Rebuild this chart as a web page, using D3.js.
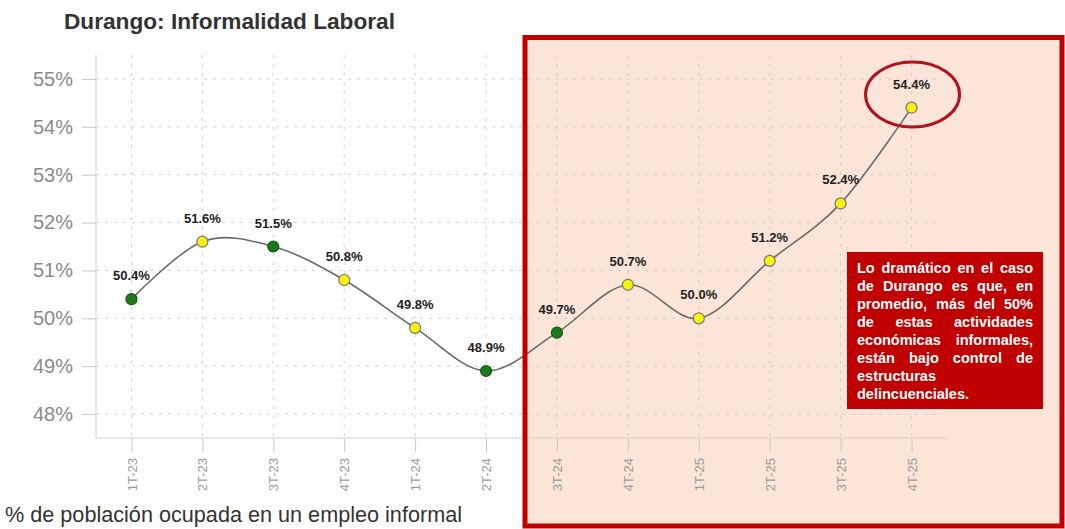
<!DOCTYPE html>
<html><head><meta charset="utf-8">
<script src="https://cdn.jsdelivr.net/npm/d3@7"></script>
<style>body{margin:0;background:#fff;}svg{display:block;font-family:"Liberation Sans",Arial,sans-serif;}</style>
</head><body>
<svg id="c" width="1065" height="529"></svg>
<script>
const categories = ["1T-23","2T-23","3T-23","4T-23","1T-24","2T-24","3T-24","4T-24","1T-25","2T-25","3T-25","4T-25"];
const values = [50.4,51.6,51.5,50.8,49.8,48.9,49.7,50.7,50.0,51.2,52.4,54.4];
const markerKind = ["green","yellow","green","yellow","yellow","green","green","yellow","yellow","yellow","yellow","yellow"];
const yTicks = [48,49,50,51,52,53,54,55];
const title = "Durango: Informalidad Laboral";
const footnote = "% de población ocupada en un empleo informal";
const noteLines = ["Lo dramático en el caso","de Durango es que, en","promedio, más del 50%","de estas actividades","económicas informales,","están bajo control de","estructuras","delincuenciales."];
const noteJustify = [true,true,true,true,true,true,false,false];

const svg = d3.select("#c");
const x = d3.scalePoint().domain(categories).range([96,947]).padding(0.5);
const y = d3.scaleLinear().domain([47.5,55.5]).range([438,55]);

// highlight box fill
svg.append("rect").attr("x",525).attr("y",37.5).attr("width",537).attr("height",488.5).attr("fill","#fbe4d8");

// grid
const g = svg.append("g");
g.selectAll(".hg").data(yTicks).join("line")
  .attr("x1",96).attr("x2",942).attr("y1",d=>y(d)).attr("y2",d=>y(d))
  .attr("stroke","#cfcfcf").attr("stroke-width",1).attr("stroke-dasharray","3,6");
g.selectAll(".vg").data(categories).join("line")
  .attr("x1",d=>x(d)).attr("x2",d=>x(d)).attr("y1",55).attr("y2",438)
  .attr("stroke","#cfcfcf").attr("stroke-width",1).attr("stroke-dasharray","3,6");

// axes
const yAxis = svg.append("g").attr("transform","translate(96,0)")
  .call(d3.axisLeft(y).tickValues(yTicks).tickSize(14).tickFormat(d=>d+"%"));
yAxis.select(".domain").attr("stroke","#d0d0d0").attr("d","M0,55V438");
yAxis.selectAll(".tick line").attr("stroke","#c8c8c8");
yAxis.selectAll(".tick text").attr("fill","#8a8a8a").attr("font-size",20).attr("x",-23)
  .attr("font-family","'Liberation Sans',Arial,sans-serif");

const xAxis = svg.append("g").attr("transform","translate(0,438)")
  .call(d3.axisBottom(x).tickSize(14));
xAxis.select(".domain").attr("stroke","#d0d0d0").attr("d","M96,0H947");
xAxis.selectAll(".tick line").attr("stroke","#c8c8c8");
xAxis.selectAll(".tick text").attr("fill","#9a9a9a").attr("font-size",13)
  .attr("font-family","'Liberation Sans',Arial,sans-serif")
  .attr("transform","rotate(-90)").attr("text-anchor","end")
  .attr("x",-20).attr("y",0).attr("dy","0.35em");

// line
const line = d3.line().x((d,i)=>x(categories[i])).y(d=>y(d)).curve(d3.curveCardinal.tension(0));
svg.append("path").datum(values).attr("d",line).attr("fill","none").attr("stroke","#6a6a6a").attr("stroke-width",1.6);

// markers
svg.selectAll(".pt").data(values).join("circle")
  .attr("cx",(d,i)=>x(categories[i])).attr("cy",d=>y(d)).attr("r",5.5)
  .attr("fill",(d,i)=>markerKind[i]==="green"?"#1b7a1b":"#f7f20a")
  .attr("stroke",(d,i)=>markerKind[i]==="green"?"#125a12":"#777")
  .attr("stroke-width",1.2);

// labels
svg.selectAll(".lbl").data(values).join("text")
  .attr("x",(d,i)=>x(categories[i])).attr("y",d=>y(d)-19)
  .attr("text-anchor","middle").attr("font-size",13).attr("font-weight","bold").attr("fill","#222")
  .text(d=>d.toFixed(1)+"%");

// ellipse
svg.append("ellipse").attr("cx",x(categories[11])+1).attr("cy",94.5).attr("rx",47).attr("ry",32.5)
  .attr("fill","none").attr("stroke","#b3121d").attr("stroke-width",3);

// box border
svg.append("rect").attr("x",525).attr("y",37.5).attr("width",537).attr("height",488.5)
  .attr("fill","none").attr("stroke","#c00000").attr("stroke-width",5);

// note
svg.append("rect").attr("x",847).attr("y",252).attr("width",196).attr("height",157).attr("fill","#c00000");
const nt = svg.append("g");
const left = 857, right = 1033, fs = 14.5;
noteLines.forEach((ln,li)=>{
  const words = ln.split(" ");
  const t = nt.append("text").attr("y",273+li*18).attr("font-size",fs).attr("font-weight","bold").attr("fill","#fff");
  const spans = words.map(w=>t.append("tspan").text(w));
  const widths = spans.map(s=>s.node().getComputedTextLength());
  const total = d3.sum(widths);
  let gap = 4;
  if (noteJustify[li] && words.length>1) gap = (right-left-total)/(words.length-1);
  let cx = left;
  spans.forEach((s,k)=>{ s.attr("x",cx); cx += widths[k]+gap; });
});

// title & footnote
svg.append("text").attr("x",64).attr("y",29).attr("font-size",21.5).attr("font-weight","bold").attr("fill","#333")
  .attr("textLength",331).attr("lengthAdjust","spacingAndGlyphs").text(title);
svg.append("text").attr("x",5).attr("y",522).attr("font-size",21.5).attr("fill","#333")
  .attr("textLength",457).attr("lengthAdjust","spacingAndGlyphs").text(footnote);
</script>
</body></html>
